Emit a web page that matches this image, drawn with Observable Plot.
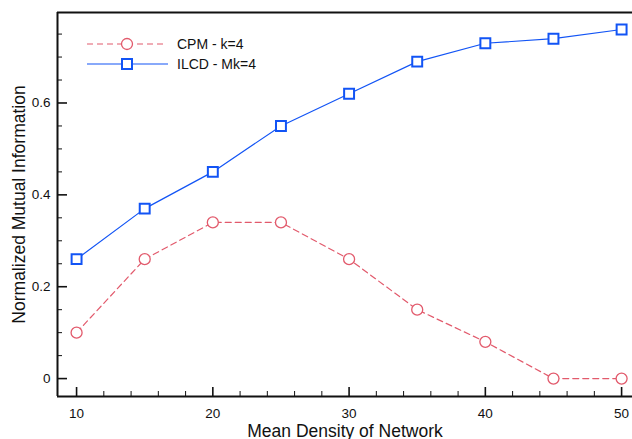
<!DOCTYPE html>
<html>
<head>
<meta charset="utf-8">
<script src="https://cdn.jsdelivr.net/npm/d3@7"></script>
<script src="https://cdn.jsdelivr.net/npm/@observablehq/plot@0.6"></script>
<style>
  html, body { margin: 0; padding: 0; background: #fff; }
  #chart { position: relative; width: 632px; height: 439px; }
  svg { font-family: "Liberation Sans", Arial, Helvetica, sans-serif; }
</style>
</head>
<body>
<div id="chart"></div>
<script>
// ---- data ----
const density = [10, 15, 20, 25, 30, 35, 40, 45, 50];
const cpm = [0.10, 0.26, 0.34, 0.34, 0.26, 0.15, 0.08, 0.0, 0.0];
const ilcd = [0.26, 0.37, 0.45, 0.55, 0.62, 0.69, 0.73, 0.74, 0.76];
const seriesNames = ["CPM - k=4", "ILCD - Mk=4"];
const xMajor = [10, 20, 30, 40, 50];
const xMinor = [12, 14, 16, 18, 22, 24, 26, 28, 32, 34, 36, 38, 42, 44, 46, 48];
const yMajor = [0, 0.2, 0.4, 0.6];
const yMinor = [0.05, 0.1, 0.15, 0.25, 0.3, 0.35, 0.45, 0.5, 0.55, 0.65, 0.7, 0.75];
const xDomain = [8.6, 50.8];
const yDomain = [-0.039, 0.797];

const red = "#e25a6c";
const blue = "#1254f5";

const cpmData = density.map((d, i) => ({x: d, y: cpm[i]}));
const ilcdData = density.map((d, i) => ({x: d, y: ilcd[i]}));

const plot = Plot.plot({
  width: 632,
  height: 439,
  marginLeft: 57,
  marginRight: 0,
  marginTop: 12,
  marginBottom: 43,
  style: {fontFamily: '"Liberation Sans", Arial, sans-serif', fontSize: "13px", color: "#111", background: "#fff"},
  x: {domain: xDomain},
  y: {domain: yDomain},
  marks: [
    // frame lines
    Plot.ruleX([xDomain[0]], {stroke: "#111", strokeWidth: 2}),
    Plot.ruleY([yDomain[0], yDomain[1]], {stroke: "#111", strokeWidth: 2}),
    // x axis ticks (inward)
    Plot.axisX({ticks: xMajor, tickSize: -9, tickFormat: () => "", label: null, strokeWidth: 1.6, stroke: "#111"}),
    Plot.axisX({ticks: xMinor, tickSize: -5, tickFormat: () => "", label: null, stroke: "#111"}),
    Plot.axisX({ticks: xMajor, tickSize: 0, tickPadding: 12, tickFormat: d => String(d),
      label: "Mean Density of Network", labelAnchor: "center", labelArrow: "none", labelOffset: 40}),
    // y axis ticks (inward)
    Plot.axisY({ticks: yMajor, tickSize: -10, tickFormat: () => "", label: null, strokeWidth: 1.6, stroke: "#111"}),
    Plot.axisY({ticks: yMinor, tickSize: -5, tickFormat: () => "", label: null, stroke: "#111"}),
    Plot.axisY({ticks: yMajor, tickSize: 0, tickPadding: 7, tickFormat: d => d === 0 ? "0" : d3.format(".1f")(d),
      label: "Normalized Mutual Information", labelAnchor: "center", labelArrow: "none", labelOffset: 45}),
    // series
    Plot.line(cpmData, {x: "x", y: "y", stroke: red, strokeWidth: 1.2, strokeDasharray: "6,4"}),
    Plot.dot(cpmData, {x: "x", y: "y", r: 5.5, stroke: red, fill: "white", strokeWidth: 1.3}),
    Plot.line(ilcdData, {x: "x", y: "y", stroke: blue, strokeWidth: 1.2}),
    Plot.dot(ilcdData, {x: "x", y: "y", symbol: "square", r: 5.6, stroke: blue, fill: "white", strokeWidth: 2})
  ]
});

document.getElementById("chart").appendChild(plot);

// font sizes
d3.select(plot).selectAll("text").each(function() {
  const t = this.textContent;
  if (t === "Mean Density of Network" || t === "Normalized Mutual Information") {
    d3.select(this).style("font-size", "17.5px").attr("fill", "#111");
  } else {
    d3.select(this).style("font-size", "13.5px").attr("fill", "#111");
  }
});

// ---- legend (inside plot, top-left) ----
const svg = d3.select(plot);
const lg = svg.append("g");
const rows = [
  {name: seriesNames[0], color: red, dash: "6,4", sym: "circle", y: 44, x2: 163},
  {name: seriesNames[1], color: blue, dash: null, sym: "square", y: 64, x2: 168}
];
rows.forEach(r => {
  lg.append("line").attr("x1", 87).attr("x2", r.x2).attr("y1", r.y).attr("y2", r.y)
    .attr("stroke", r.color).attr("stroke-width", 1.2).attr("stroke-dasharray", r.dash);
  if (r.sym === "circle") {
    lg.append("circle").attr("cx", 127).attr("cy", r.y).attr("r", 5.5)
      .attr("fill", "white").attr("stroke", r.color).attr("stroke-width", 1.3);
  } else {
    lg.append("rect").attr("x", 122).attr("y", r.y - 5).attr("width", 10).attr("height", 10)
      .attr("fill", "white").attr("stroke", r.color).attr("stroke-width", 2);
  }
  lg.append("text").attr("x", 177).attr("y", r.y).attr("dy", "0.35em")
    .attr("text-anchor", "start").attr("fill", "#111")
    .style("font-size", "14px").style("font-family", '"Liberation Sans", Arial, sans-serif')
    .text(r.name);
});
</script>
</body>
</html>
